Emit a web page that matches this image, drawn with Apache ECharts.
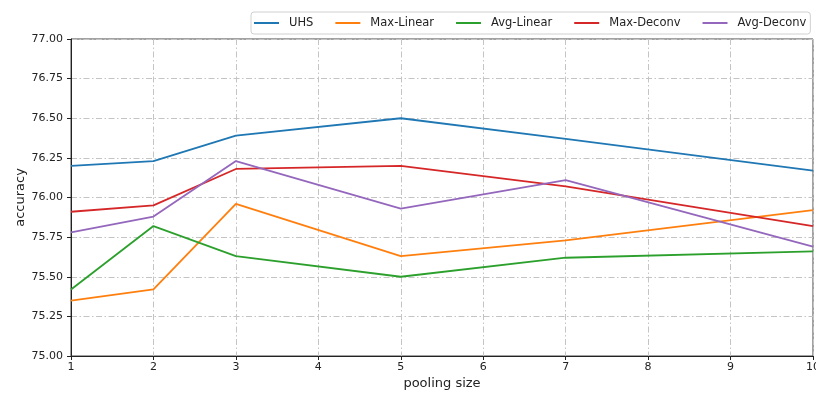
<!DOCTYPE html>
<html><head><meta charset="utf-8">
<script src="https://cdn.jsdelivr.net/npm/echarts@6/dist/echarts.min.js"></script>
<style>html,body{margin:0;padding:0;background:#fff;}#c{width:816px;height:394px;}</style>
</head><body><div id="c"></div>
<script>
const poolingSizes = [1, 2, 3, 5, 7, 10];
const uhs        = [76.20, 76.23, 76.39, 76.50, 76.37, 76.17];
const maxLinear  = [75.35, 75.42, 75.96, 75.63, 75.73, 75.92];
const avgLinear  = [75.42, 75.82, 75.63, 75.50, 75.62, 75.66];
const maxDeconv  = [75.91, 75.95, 76.18, 76.20, 76.07, 75.82];
const avgDeconv  = [75.78, 75.88, 76.23, 75.93, 76.11, 75.69];
const seriesNames = ['UHS', 'Max-Linear', 'Avg-Linear', 'Max-Deconv', 'Avg-Deconv'];
const seriesValues = [uhs, maxLinear, avgLinear, maxDeconv, avgDeconv];
const colors = ['#1f77b4', '#ff7f0e', '#2ca02c', '#d62728', '#9467bd'];

const font = 'DejaVu Sans';
const gridLine = { show: true, lineStyle: { color: '#c4c4c4', width: 1, type: [6, 2.5, 1.5, 2.5] } };

const chart = echarts.init(document.getElementById('c'), null, { renderer: 'canvas' });
chart.setOption({
  animation: false,
  backgroundColor: '#fff',
  color: colors,
  grid: { left: 71, right: 3, top: 39, bottom: 38, containLabel: false, outerBoundsMode: 'none',
          show: true, borderColor: '#444', borderWidth: 1, backgroundColor: 'transparent' },
  legend: {
    left: 251, top: 12,
    padding: [5, 4, 5, 3],
    itemGap: 22,
    itemWidth: 25, itemHeight: 2,
    icon: 'rect',
    borderColor: '#d0d0d0', borderWidth: 1, borderRadius: 3,
    backgroundColor: '#fff',
    textStyle: { fontFamily: font, fontSize: 11.5, color: '#222', padding: [0, 0, 0, 5] },
    data: seriesNames
  },
  xAxis: {
    type: 'value', min: 1, max: 10, interval: 1,
    name: 'pooling size', nameLocation: 'middle', nameGap: 21, nameMoveOverlap: false,
    nameTextStyle: { fontFamily: font, fontSize: 13, color: '#222' },
    axisLine: { show: true, onZero: false, lineStyle: { color: '#222', width: 1 } },
    axisTick: { show: true, length: 4, lineStyle: { color: '#222' } },
    axisLabel: { fontFamily: font, fontSize: 11, color: '#222', margin: 6 },
    splitLine: gridLine
  },
  yAxis: {
    type: 'value', min: 75, max: 77, interval: 0.25,
    name: 'accuracy', nameLocation: 'middle', nameGap: 44, nameMoveOverlap: false,
    nameTextStyle: { fontFamily: font, fontSize: 13, color: '#222' },
    axisLine: { show: true, lineStyle: { color: '#222', width: 1 } },
    axisTick: { show: true, length: 4, lineStyle: { color: '#222' } },
    axisLabel: { fontFamily: font, fontSize: 11, color: '#222', margin: 8, formatter: v => v.toFixed(2) },
    splitLine: gridLine
  },
  series: seriesNames.map((n, i) => ({
    name: n, type: 'line', showSymbol: false, symbol: 'none',
    lineStyle: { width: 1.8, color: colors[i] },
    itemStyle: { color: colors[i] },
    data: poolingSizes.map((x, j) => [x, seriesValues[i][j]])
  }))
});
</script></body></html>
